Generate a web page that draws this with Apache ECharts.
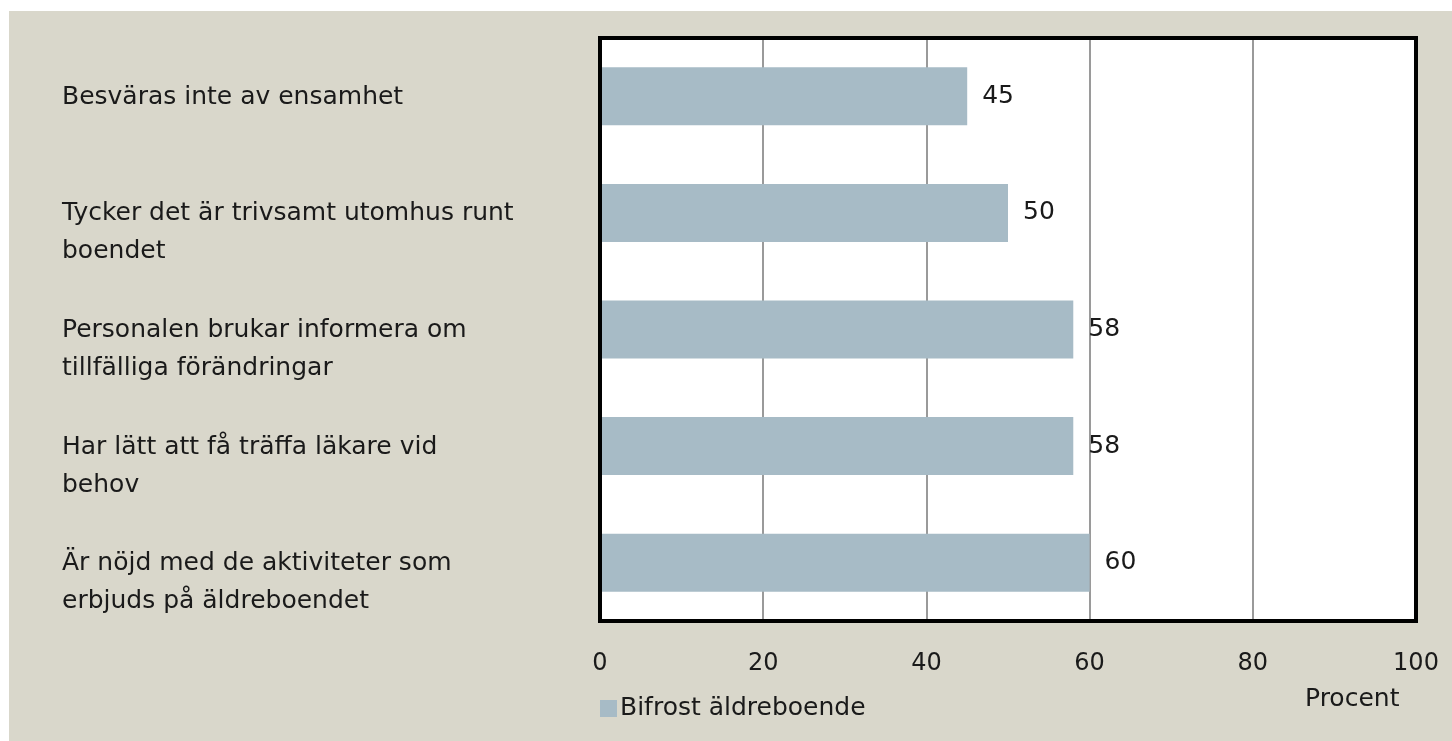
<!DOCTYPE html>
<html>
<head>
<meta charset="utf-8">
<script src="https://cdn.jsdelivr.net/npm/echarts@6/dist/echarts.min.js"></script>
<style>
  html, body { margin: 0; padding: 0; background: #fff; }
  #chart { position: absolute; left: 9px; top: 11px; width: 1443px; height: 730px; }
</style>
</head>
<body>
<div id="chart"></div>
<script>
// kategorier uppifrån och ned
const categories = [
  "Besväras inte av ensamhet",
  "Tycker det är trivsamt utomhus runt\nboendet",
  "Personalen brukar informera om\ntillfälliga förändringar",
  "Har lätt att få träffa läkare vid\nbehov",
  "Är nöjd med de aktiviteter som\nerbjuds på äldreboendet"
];
const values = [45, 50, 58, 58, 60];
const seriesName = "Bifrost äldreboende";
const axisName = "Procent";

const font = "DejaVu Sans";
const textColor = "#1a1a1a";

// plotytan
const gLeft = 591, gTop = 27, gRight = 36, gBottom = 120;
const W = 1443, H = 730;

const chart = echarts.init(document.getElementById("chart"));
chart.setOption({
  backgroundColor: "#d9d7cb",
  animation: false,
  textStyle: { fontFamily: font, color: textColor },
  grid: {
    left: gLeft,
    top: gTop,
    right: gRight,
    bottom: gBottom,
    show: true,
    backgroundColor: "#fff",
    borderWidth: 0,
  },
  legend: {
    left: gLeft - 5,
    top: 680,
    itemWidth: 17,
    itemHeight: 17,
    icon: "rect",
    textStyle: { fontFamily: font, fontSize: 25, color: textColor, padding: [0, 0, 0, -2] },
    data: [seriesName],
  },
  xAxis: {
    type: "value",
    min: 0,
    max: 100,
    interval: 20,
    axisLine: { show: false },
    axisTick: { show: false },
    splitLine: { lineStyle: { color: "#9a9a9a", width: 2 } },
    axisLabel: { fontFamily: font, fontSize: 24, color: textColor, margin: 31 },
  },
  yAxis: {
    type: "category",
    inverse: true,
    data: categories,
    axisLine: { show: false },
    axisTick: { show: false },
    axisLabel: {
      fontFamily: font,
      fontSize: 25,
      color: textColor,
      align: "left",
      verticalAlign: "top",
      lineHeight: 38,
      padding: [-18, 0, 0, 0],
      margin: 538,
    },
  },
  series: [
    {
      name: seriesName,
      type: "bar",
      data: values,
      barWidth: 58,
      itemStyle: { color: "#a7bbc6" },
      label: {
        show: true,
        position: "right",
        distance: 15,
        fontFamily: font,
        fontSize: 25,
        color: textColor,
      },
    },
  ],
  graphic: [
    {
      type: "rect",
      z: 100,
      silent: true,
      shape: { x: gLeft, y: gTop, width: W - gLeft - gRight, height: H - gTop - gBottom },
      style: { fill: null, stroke: "#000", lineWidth: 4 },
    },
    {
      type: "text",
      left: 1296,
      top: 676,
      style: { text: axisName, font: "25px " + font, fill: textColor },
    },
  ],
});
</script>
</body>
</html>
